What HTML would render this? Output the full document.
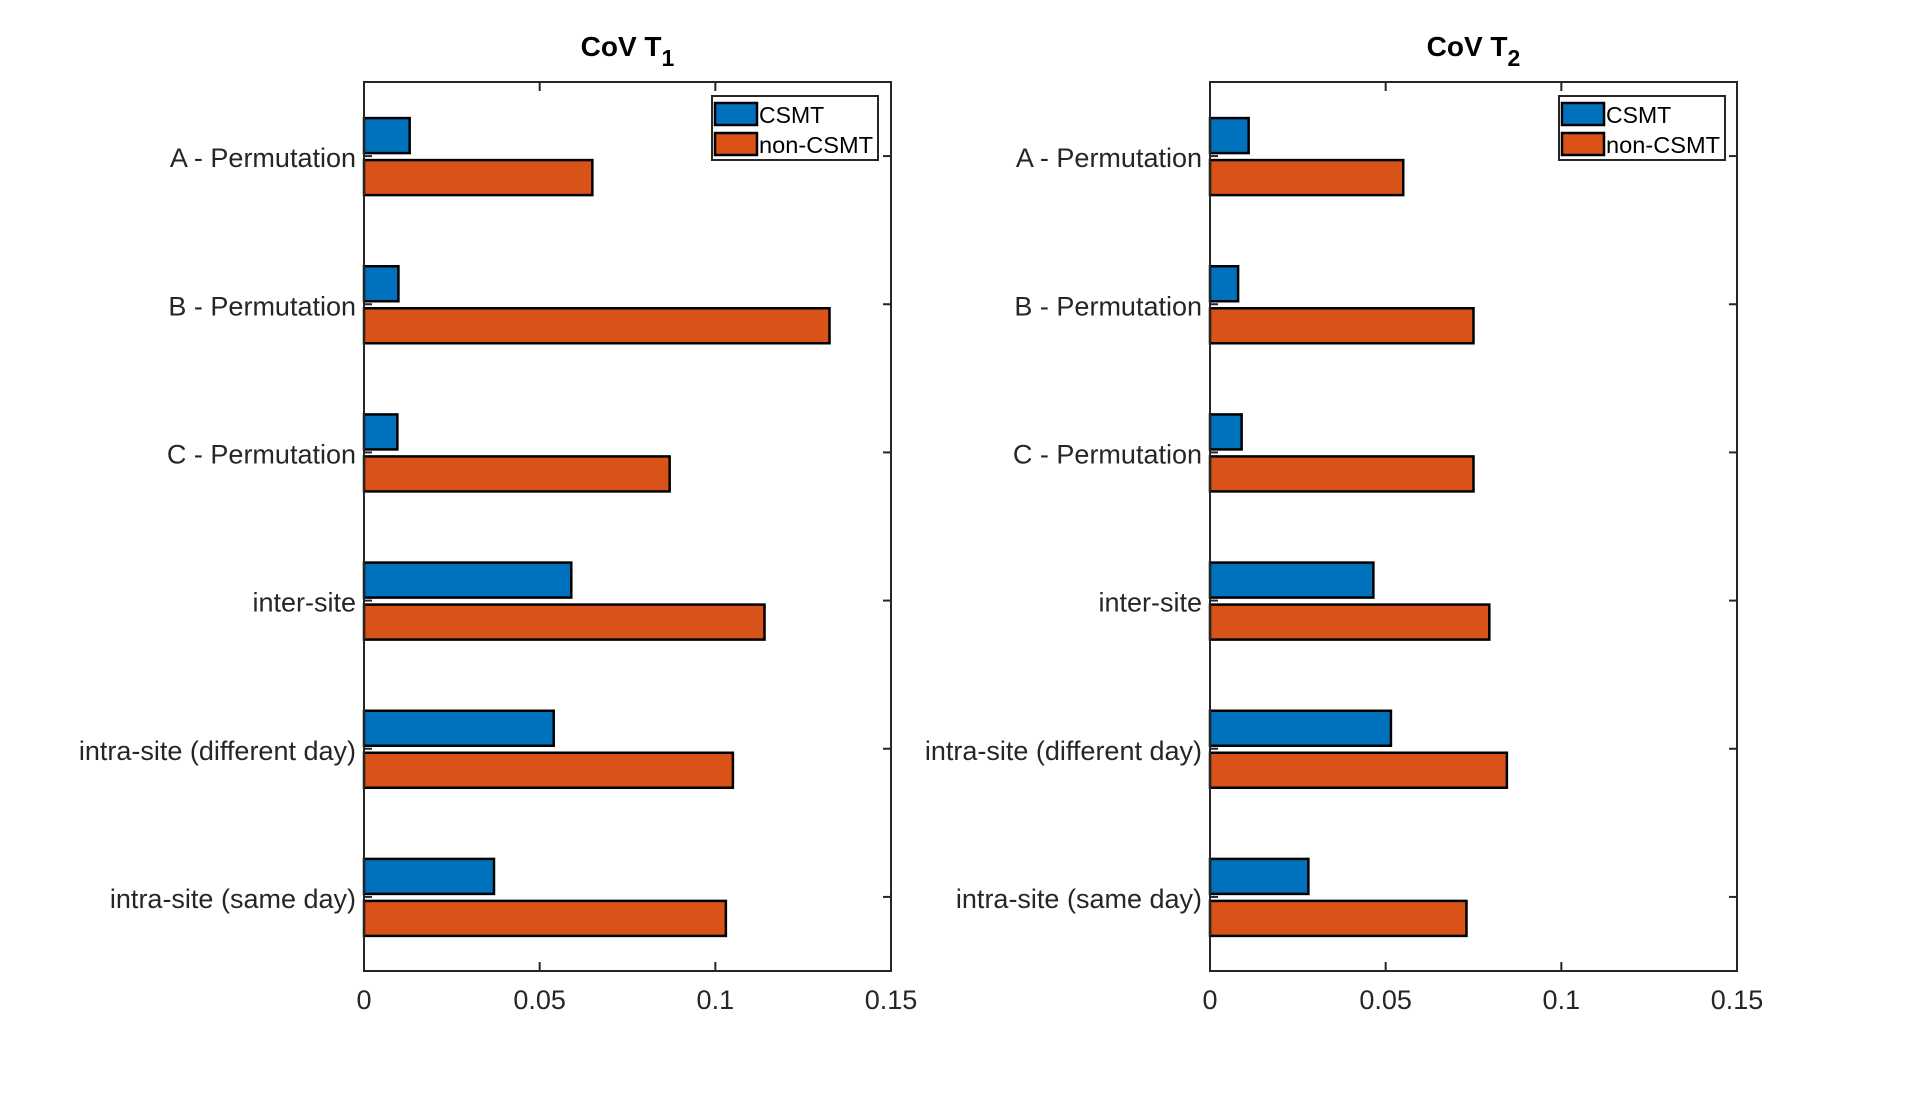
<!DOCTYPE html>
<html><head><meta charset="utf-8"><style>
html,body{margin:0;padding:0;background:#fff;}
svg{display:block;font-family:"Liberation Sans",Arial,sans-serif;}
</style></head><body>
<svg id="chart" width="1920" height="1093" viewBox="0 0 1920 1093" xmlns="http://www.w3.org/2000/svg"></svg>
<script>
const categories = ["A - Permutation","B - Permutation","C - Permutation","inter-site","intra-site (different day)","intra-site (same day)"];
const t1CSMT = [0.013,0.0098,0.0095,0.059,0.054,0.037];
const t1NonCSMT = [0.065,0.1325,0.087,0.114,0.105,0.103];
const t2CSMT = [0.011,0.008,0.009,0.0465,0.0515,0.028];
const t2NonCSMT = [0.055,0.075,0.075,0.0795,0.0845,0.073];
const xTicks = [0,0.05,0.1,0.15];
const xTickLabels = ["0","0.05","0.1","0.15"];
const seriesNames = ["CSMT","non-CSMT"];

const NS="http://www.w3.org/2000/svg";
const svg=document.getElementById('chart');
function mk(tag,attrs,parent){const e=document.createElementNS(NS,tag);for(const k in attrs)e.setAttribute(k,attrs[k]);(parent||svg).appendChild(e);return e;}

const panels=[
 {left:364,right:891,title:"1",csmt:t1CSMT,non:t1NonCSMT,legX:712},
 {left:1210,right:1737,title:"2",csmt:t2CSMT,non:t2NonCSMT,legX:1559}
];
const axTop=82,axBottom=971;
panels.forEach((p,pi)=>{
  const g=mk('g',{});
  
  
  const xs=v=>p.left+(v-0)/(0.15-0)*(p.right-p.left);
  const ys=i=>axTop+(i+0.5)*(axBottom-axTop)/categories.length;
  categories.forEach((c,i)=>{
    const cy=ys(i);
    const b1=mk('rect',{x:xs(0),y:cy-38,width:xs(p.csmt[i])-xs(0),height:35,fill:'#0072BD',stroke:'#000','stroke-width':2.5},g);
    
    
    const b2=mk('rect',{x:xs(0),y:cy+4,width:xs(p.non[i])-xs(0),height:35,fill:'#D95319',stroke:'#000','stroke-width':2.5},g);
    
    
    const lab=mk('text',{x:p.left-8,y:cy+11,'text-anchor':'end','font-size':27,fill:'#262626'},g);
    lab.textContent=c;
    
    
    mk('line',{x1:p.left,x2:p.left+8,y1:cy,y2:cy,stroke:'#262626','stroke-width':2},g);
    mk('line',{x1:p.right,x2:p.right-8,y1:cy,y2:cy,stroke:'#262626','stroke-width':2},g);
  });
  const box=mk('rect',{x:p.left,y:axTop,width:p.right-p.left,height:axBottom-axTop,fill:'none',stroke:'#262626','stroke-width':2},g);
  
  
  xTicks.forEach((t,k)=>{
    const x=xs(t);
    mk('line',{x1:x,x2:x,y1:axBottom,y2:axBottom-9,stroke:'#262626','stroke-width':2},g);
    mk('line',{x1:x,x2:x,y1:axTop,y2:axTop+9,stroke:'#262626','stroke-width':2},g);
    const tl=mk('text',{x:x,y:1009,'text-anchor':'middle','font-size':27,fill:'#262626'},g);
    tl.textContent=xTickLabels[k];
    
    
  });
  const cx=(p.left+p.right)/2;
  const tt=mk('text',{x:cx,y:56,'text-anchor':'middle','font-size':28,'font-weight':'bold',fill:'#000'},g);
  tt.textContent='CoV T';
  const sub=mk('tspan',{'font-size':23,dy:10},tt);
  sub.textContent=p.title;
  
  
  const lg=mk('g',{},g);
  
  
  mk('rect',{x:p.legX,y:96,width:166,height:64,fill:'#fff',stroke:'#262626','stroke-width':2},lg);
  const cols=['#0072BD','#D95319'];
  seriesNames.forEach((n,k)=>{
    const ry=103+k*30;
    mk('rect',{x:p.legX+3,y:ry,width:42,height:22,fill:cols[k],stroke:'#000','stroke-width':2.5},lg);
    const lt=mk('text',{x:p.legX+47,y:ry+20,'font-size':23,fill:'#000','textLength':114,'lengthAdjust':'spacingAndGlyphs'},lg);
    if(k===0) lt.removeAttribute('textLength');
    lt.textContent=n;
    
    
  });
});
</script>
</body></html>
